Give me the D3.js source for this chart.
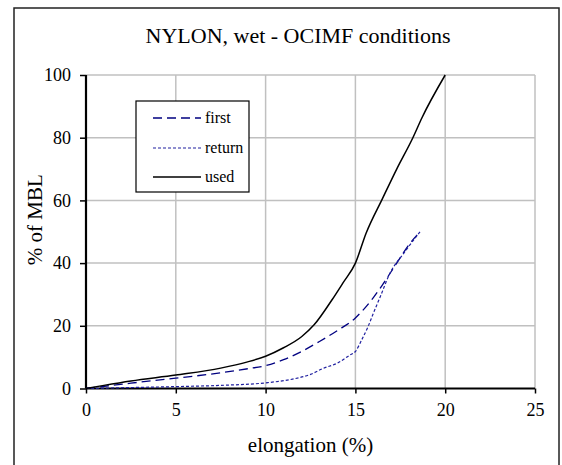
<!DOCTYPE html>
<html>
<head>
<meta charset="utf-8">
<script src="https://cdn.jsdelivr.net/npm/d3@7"></script>
<style>
  html, body { margin: 0; padding: 0; background: #fff; }
  svg { display: block; }
  svg text { font-family: "Liberation Serif", Tinos, "Times New Roman", Times, "DejaVu Serif", serif; fill: #000; }
</style>
</head>
<body>
<svg id="chart" width="562" height="465"></svg>
<script>
// ---- data ----
const title = "NYLON, wet - OCIMF conditions";
const xLabel = "elongation (%)";
const yLabel = "% of MBL";
const xTicks = [0, 5, 10, 15, 20, 25];
const yTicks = [0, 20, 40, 60, 80, 100];

const firstX = [0, 2.5, 5, 7.5, 9, 10, 11, 12, 13, 14, 15, 15.5, 16, 16.5, 17.3, 18, 18.6];
const firstY = [0, 1.7, 3.3, 5, 6.3, 7.3, 9.2, 11.8, 15, 18.5, 22.5, 25.5, 29, 33, 40, 46, 50];

const returnX = [0, 2.5, 5, 7.5, 10, 11.5, 12.5, 13.2, 14, 14.7, 15, 15.35, 15.7, 16, 16.4, 16.9, 17.7, 18.6];
const returnY = [0, 0.3, 0.6, 1, 1.8, 3, 4.5, 6.4, 8.1, 10.7, 11.8, 15.5, 19.7, 24, 29.5, 36.5, 43.2, 50];

const usedX = [0, 1, 2.5, 5, 7.5, 9, 10, 11, 12, 12.7, 13.7, 14.3, 15, 15.6, 16.5, 17.3, 18.2, 18.7, 20];
const usedY = [0, 1, 2.4, 4.3, 6.5, 8.5, 10.3, 13, 16.5, 20.3, 28.3, 33.6, 40, 49.6, 60.5, 70, 80, 86.3, 100];

const seriesNames = ["first", "return", "used"];

// ---- drawing ----
const svg = d3.select("#chart");
const plot = { left: 86, right: 535, top: 75, bottom: 388.5 };
const serif = '"Liberation Serif", Tinos, "Times New Roman", Times, "DejaVu Serif", serif';

const x = d3.scaleLinear().domain([0, 25]).range([plot.left, plot.right]);
const y = d3.scaleLinear().domain([0, 100]).range([plot.bottom, plot.top]);

// outer chart border
svg.append("rect")
  .attr("x", 14).attr("y", 8).attr("width", 545).attr("height", 470)
  .attr("fill", "none").attr("stroke", "#222").attr("stroke-width", 1.5);

// title
svg.append("text").attr("x", 298).attr("y", 43).style("font-family", serif)
  .attr("text-anchor", "middle").attr("font-size", 22).text(title);

// gridlines
const grid = svg.append("g").attr("stroke", "#c0c0c0").attr("stroke-width", 1.5);
grid.selectAll("line.h").data(yTicks.filter(d => d > 0)).enter().append("line")
  .attr("x1", plot.left).attr("x2", plot.right)
  .attr("y1", d => y(d)).attr("y2", d => y(d));
grid.selectAll("line.v").data(xTicks.filter(d => d > 0)).enter().append("line")
  .attr("y1", plot.top).attr("y2", plot.bottom)
  .attr("x1", d => x(d)).attr("x2", d => x(d));

// axes
const xAxis = d3.axisBottom(x).tickValues(xTicks).tickSize(5).tickPadding(10).tickFormat(d3.format("d"));
const yAxis = d3.axisLeft(y).tickValues(yTicks).tickSize(6).tickPadding(9).tickFormat(d3.format("d"));

const gx = svg.append("g").attr("transform", `translate(0,${plot.bottom})`).call(xAxis);
const gy = svg.append("g").attr("transform", `translate(${plot.left},0)`).call(yAxis);
[gx, gy].forEach(g => {
  g.attr("font-family", null);
  g.select(".domain").attr("stroke", "#000").attr("stroke-width", 2.2);
  g.selectAll(".tick line").attr("stroke", "#000").attr("stroke-width", 1.5);
  g.selectAll(".tick text").style("font-family", serif).attr("font-size", 18).attr("fill", "#000");
});
gx.select(".domain").attr("d", `M${plot.left},0H${plot.right}`);
gy.select(".domain").attr("d", `M0,${plot.bottom}V${plot.top}`);

// axis titles
svg.append("text").attr("x", x(12.5)).attr("y", 452).style("font-family", serif)
  .attr("text-anchor", "middle").attr("font-size", 21).text(xLabel);
svg.append("text").style("font-family", serif)
  .attr("transform", `translate(42,${(plot.top + plot.bottom) / 2 - 12}) rotate(-90)`)
  .attr("text-anchor", "middle").attr("font-size", 21).text(yLabel);

// lines
const styles = {
  first:  { color: "#000080", dash: "9,5", width: 1.3 },
  return: { color: "#2020a0", dash: "3,2", width: 1.2 },
  used:   { color: "#000000", dash: null, width: 1.5 }
};
const seriesData = {
  first: firstX.map((v, i) => [v, firstY[i]]),
  return: returnX.map((v, i) => [v, returnY[i]]),
  used: usedX.map((v, i) => [v, usedY[i]])
};
const line = d3.line().x(d => x(d[0])).y(d => y(d[1])).curve(d3.curveMonotoneX);

seriesNames.forEach(name => {
  const s = styles[name];
  svg.append("path").datum(seriesData[name])
    .attr("d", line).attr("fill", "none")
    .attr("stroke", s.color).attr("stroke-width", s.width)
    .attr("stroke-dasharray", s.dash);
});

// legend
const lg = svg.append("g");
lg.append("rect").attr("x", 136).attr("y", 101).attr("width", 113).attr("height", 91)
  .attr("fill", "#fff").attr("stroke", "#000").attr("stroke-width", 1.2);
const legY = [118, 148, 177];
seriesNames.forEach((name, i) => {
  const s = styles[name];
  lg.append("line").attr("x1", 153).attr("x2", 201).attr("y1", legY[i]).attr("y2", legY[i])
    .attr("stroke", s.color).attr("stroke-width", s.width).attr("stroke-dasharray", s.dash);
  lg.append("text").attr("x", 205).attr("y", legY[i]).attr("dy", "0.32em").style("font-family", serif)
    .attr("font-size", 16).text(name);
});
</script>
</body>
</html>
